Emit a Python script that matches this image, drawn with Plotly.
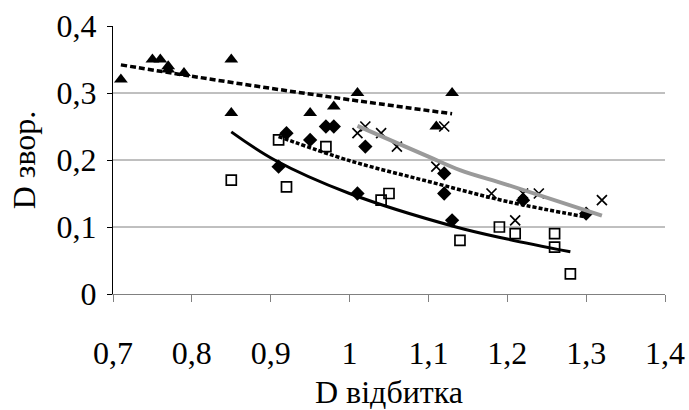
import plotly.graph_objects as go

# ---- data ----
tri_x = [0.71, 0.75, 0.76, 0.77, 0.77, 0.79, 0.85, 0.85, 0.95, 0.98, 1.01, 1.11, 1.13]
tri_y = [0.32, 0.35, 0.35, 0.34, 0.335, 0.33, 0.35, 0.27, 0.27, 0.28, 0.30, 0.25, 0.30]

dia_x = [0.91, 0.92, 0.95, 0.97, 0.98, 1.01, 1.02, 1.12, 1.12, 1.13, 1.22, 1.30]
dia_y = [0.19, 0.24, 0.23, 0.25, 0.25, 0.15, 0.22, 0.18, 0.15, 0.11, 0.14, 0.12]

sq_x = [0.85, 0.91, 0.92, 0.97, 1.04, 1.05, 1.14, 1.19, 1.21, 1.26, 1.26, 1.28]
sq_y = [0.17, 0.23, 0.16, 0.22, 0.14, 0.15, 0.08, 0.10, 0.09, 0.09, 0.07, 0.03]

xm_x = [1.01, 1.02, 1.04, 1.06, 1.11, 1.12, 1.18, 1.21, 1.22, 1.24, 1.32]
xm_y = [0.24, 0.25, 0.24, 0.22, 0.19, 0.25, 0.15, 0.11, 0.15, 0.15, 0.14]

# trend lines
tri_trend_x = [0.71, 0.80, 0.90, 1.00, 1.13]
tri_trend_y = [0.342, 0.325, 0.307, 0.290, 0.269]

dia_trend_x = [0.91, 1.00, 1.10, 1.20, 1.30]
dia_trend_y = [0.235, 0.199, 0.168, 0.138, 0.115]

sq_trend_x = [0.85, 0.905, 1.00, 1.135, 1.20, 1.28]
sq_trend_y = [0.242, 0.200, 0.150, 0.100, 0.082, 0.063]

xm_trend_x = [1.01, 1.10, 1.14, 1.20, 1.32]
xm_trend_y = [0.251, 0.205, 0.185, 0.163, 0.117]

x_ticks = [0.7, 0.8, 0.9, 1.0, 1.1, 1.2, 1.3, 1.4]
x_labels = ["0,7", "0,8", "0,9", "1", "1,1", "1,2", "1,3", "1,4"]
y_ticks = [0, 0.1, 0.2, 0.3, 0.4]
y_labels = ["0", "0,1", "0,2", "0,3", "0,4"]
grid_vals = [0.1, 0.2, 0.3]
x_title = "D відбитка"
y_title = "D звор."

FONT = "Liberation Serif, Times New Roman, serif"
FS = 32

fig = go.Figure()

fig.add_trace(go.Scatter(x=tri_x, y=tri_y, mode="markers",
                         marker=dict(symbol="triangle-up", size=12, color="black")))
fig.add_trace(go.Scatter(x=dia_x, y=dia_y, mode="markers",
                         marker=dict(symbol="diamond", size=11, color="black")))
fig.add_trace(go.Scatter(x=sq_x, y=sq_y, mode="markers",
                         marker=dict(symbol="square-open", size=10, color="black",
                                     line=dict(width=1.7, color="black"))))
fig.add_trace(go.Scatter(x=xm_x, y=xm_y, mode="markers",
                         marker=dict(symbol="x-thin-open", size=10, color="black",
                                     line=dict(width=1.7, color="black"))))

fig.add_trace(go.Scatter(x=tri_trend_x, y=tri_trend_y, mode="lines",
                         line=dict(color="black", width=3.5, dash="6px,3px", shape="spline")))
fig.add_trace(go.Scatter(x=dia_trend_x, y=dia_trend_y, mode="lines",
                         line=dict(color="black", width=3.5, dash="4px,2px", shape="spline")))
fig.add_trace(go.Scatter(x=sq_trend_x, y=sq_trend_y, mode="lines",
                         line=dict(color="black", width=3, shape="spline")))
fig.add_trace(go.Scatter(x=xm_trend_x, y=xm_trend_y, mode="lines",
                         line=dict(color="#9a9a9a", width=4, shape="spline")))

for g in grid_vals:
    fig.add_shape(type="line", xref="paper", yref="y", x0=0, x1=1, y0=g, y1=g,
                  line=dict(color="#808080", width=1), layer="below")

fig.add_annotation(text=x_title, xref="paper", yref="paper", x=0.5, y=0,
                   xanchor="center", yanchor="middle", yshift=-98, showarrow=False,
                   font=dict(family=FONT, size=FS, color="black"))

fig.update_layout(
    width=689, height=410,
    margin=dict(l=113, r=24, t=26, b=116, autoexpand=False),
    paper_bgcolor="white", plot_bgcolor="white",
    showlegend=False,
    font=dict(family=FONT, size=FS, color="black"),
    xaxis=dict(range=[0.7, 1.4], tickvals=x_ticks, ticktext=x_labels,
               automargin=False,
               showgrid=False, zeroline=False, showline=True, linecolor="#808080",
               linewidth=1, ticks="outside", ticklen=7, tickcolor="#808080",
               ticklabelstandoff=24,
               tickfont=dict(family=FONT, size=FS)),
    yaxis=dict(range=[0, 0.4], tickvals=y_ticks, ticktext=y_labels,
               automargin=False,
               showgrid=False, zeroline=False, showline=True, linecolor="black",
               linewidth=1, ticks="outside", ticklen=5, tickcolor="black",
               ticklabelstandoff=4,
               tickfont=dict(family=FONT, size=FS),
               title=dict(text=y_title, font=dict(family=FONT, size=FS), standoff=11)),
)

fig.write_html("out.html", config={"displayModeBar": False},
               post_script="document.body.style.margin='0';document.body.style.padding='0';")
